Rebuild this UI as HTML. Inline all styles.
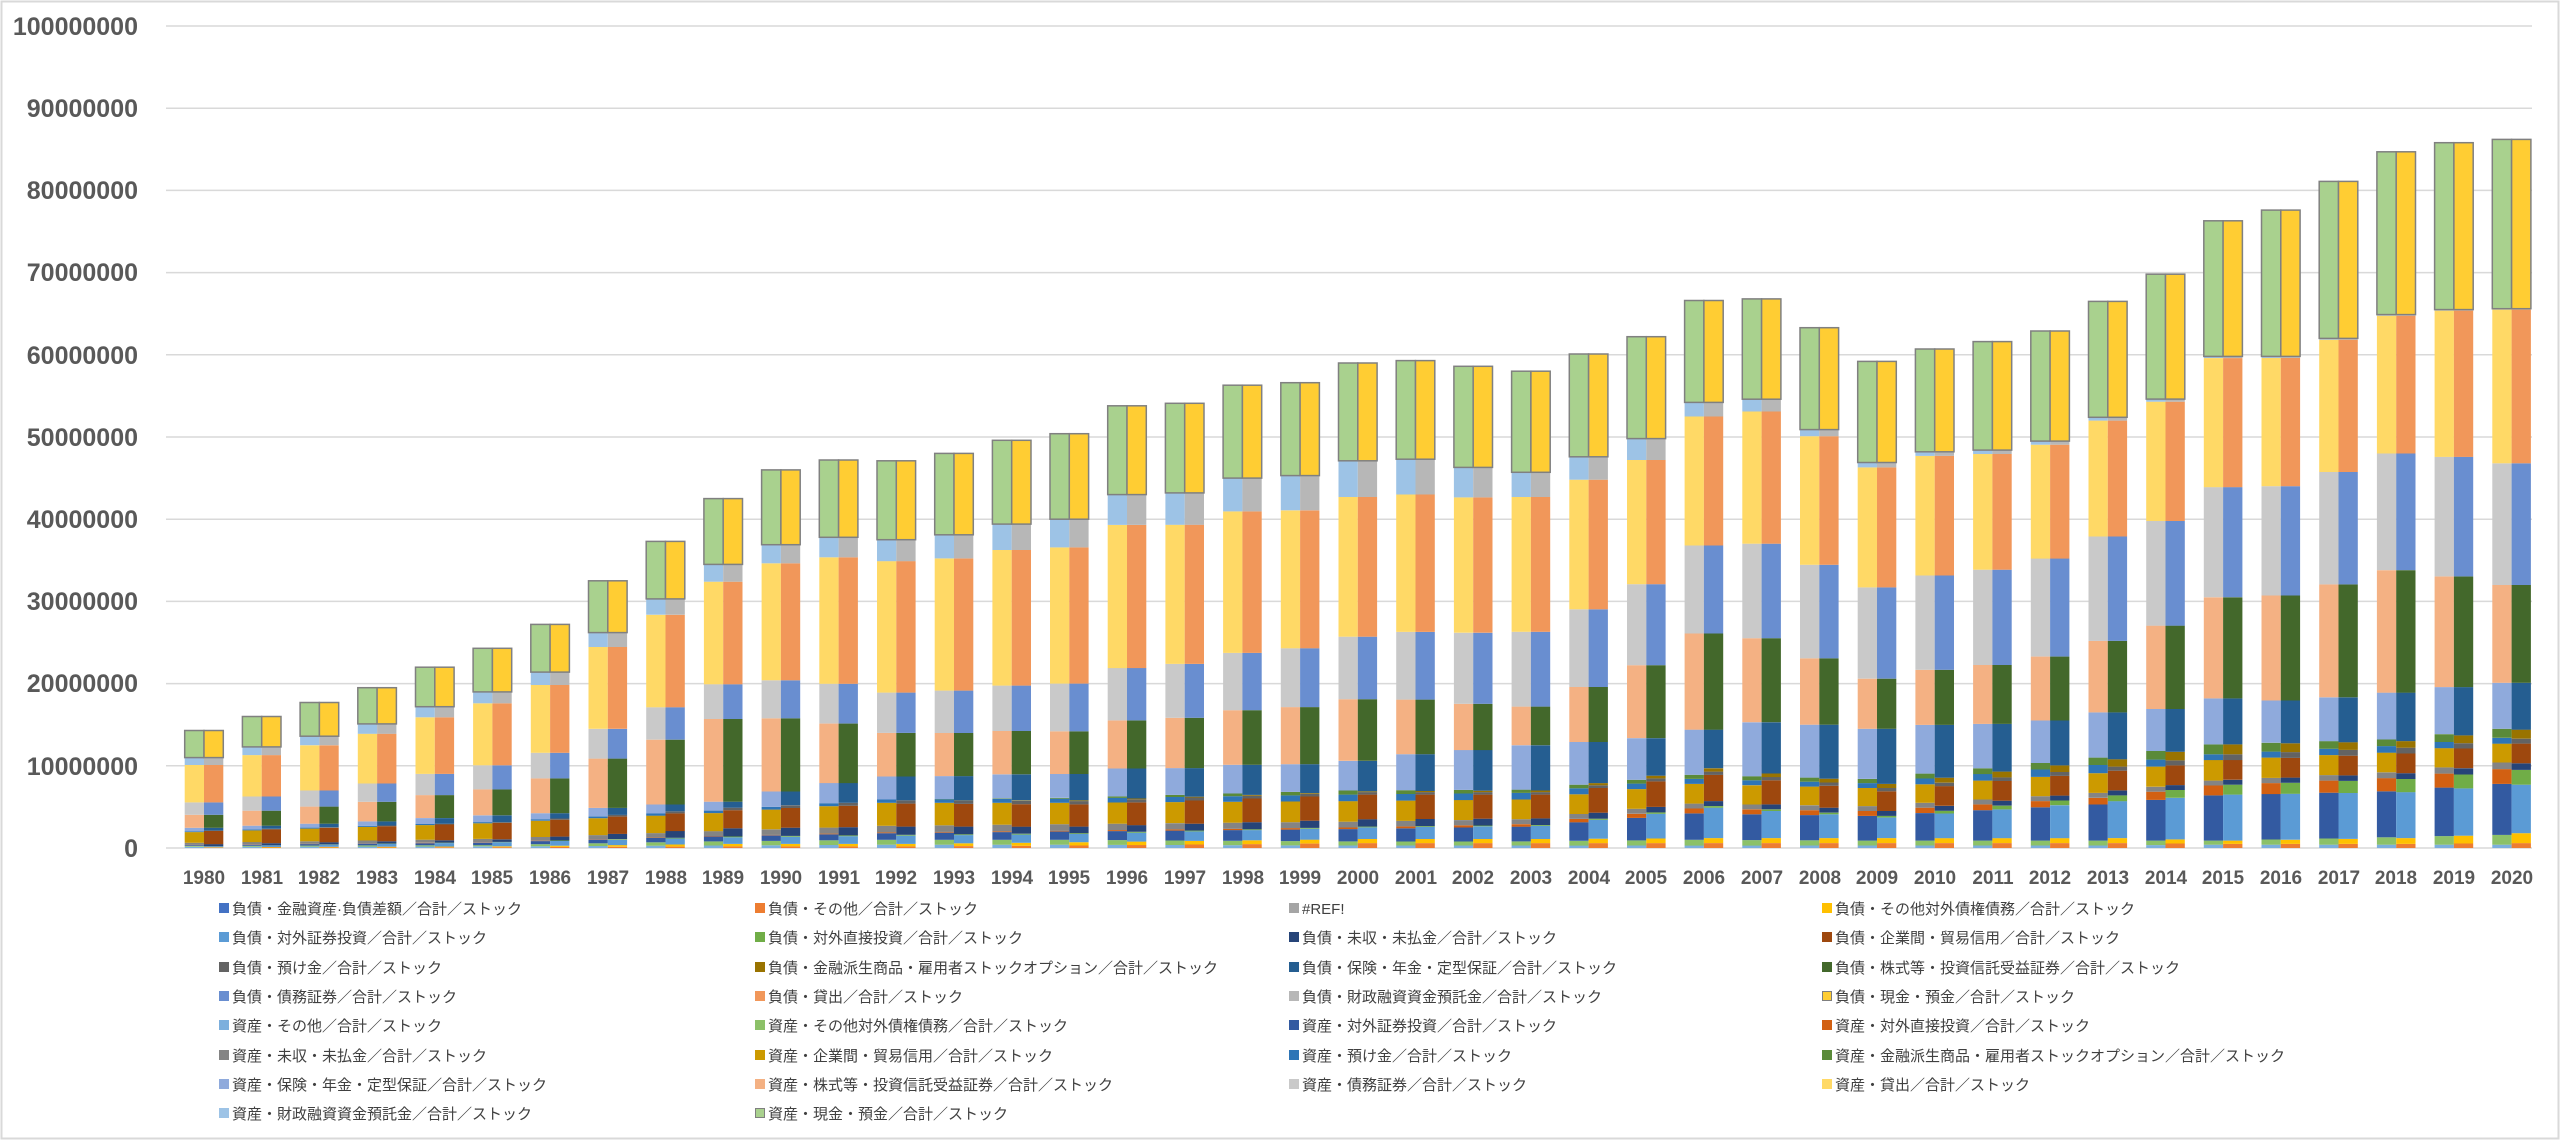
<!DOCTYPE html>
<html><head><meta charset="utf-8"><style>
html,body{margin:0;padding:0;background:#fff;}
#c{position:relative;width:2560px;height:1140px;overflow:hidden;background:#fff;}
svg text{font-family:"Liberation Sans","Noto Sans CJK JP",sans-serif;}
.yl{font-size:25px;font-weight:bold;fill:#595959;text-anchor:end;}
.xl{font-size:19px;font-weight:bold;fill:#595959;text-anchor:middle;}
.lg{font-size:15px;fill:#404040;}
</style></head><body><div id="c">
<svg id="s" width="2560" height="1140" xmlns="http://www.w3.org/2000/svg">
<rect x="1.5" y="1.5" width="2557" height="1137" fill="#fff" stroke="#d9d9d9" stroke-width="2"/>
<g id="grid" stroke="#d9d9d9" stroke-width="1.5">
<line x1="166" x2="2532" y1="26" y2="26"/><line x1="166" x2="2532" y1="108.2" y2="108.2"/>
<line x1="166" x2="2532" y1="190.4" y2="190.4"/><line x1="166" x2="2532" y1="272.6" y2="272.6"/>
<line x1="166" x2="2532" y1="354.8" y2="354.8"/><line x1="166" x2="2532" y1="437" y2="437"/>
<line x1="166" x2="2532" y1="519.2" y2="519.2"/><line x1="166" x2="2532" y1="601.4" y2="601.4"/>
<line x1="166" x2="2532" y1="683.6" y2="683.6"/><line x1="166" x2="2532" y1="765.8" y2="765.8"/>
<line x1="166" x2="2532" y1="848" y2="848"/>
</g>
<g id="bars"></g>
<g>
<text class="yl" x="138" y="35">100000000</text>
<text class="yl" x="138" y="117">90000000</text>
<text class="yl" x="138" y="199">80000000</text>
<text class="yl" x="138" y="281">70000000</text>
<text class="yl" x="138" y="364">60000000</text>
<text class="yl" x="138" y="446">50000000</text>
<text class="yl" x="138" y="528">40000000</text>
<text class="yl" x="138" y="610">30000000</text>
<text class="yl" x="138" y="692">20000000</text>
<text class="yl" x="138" y="775">10000000</text>
<text class="yl" x="138" y="857">0</text>
</g>
<g>
<text class="xl" x="204" y="884">1980</text><text class="xl" x="262" y="884">1981</text><text class="xl" x="319" y="884">1982</text><text class="xl" x="377" y="884">1983</text><text class="xl" x="435" y="884">1984</text><text class="xl" x="492" y="884">1985</text><text class="xl" x="550" y="884">1986</text><text class="xl" x="608" y="884">1987</text><text class="xl" x="666" y="884">1988</text><text class="xl" x="723" y="884">1989</text>
<text class="xl" x="781" y="884">1990</text><text class="xl" x="839" y="884">1991</text><text class="xl" x="896" y="884">1992</text><text class="xl" x="954" y="884">1993</text><text class="xl" x="1012" y="884">1994</text><text class="xl" x="1069" y="884">1995</text><text class="xl" x="1127" y="884">1996</text><text class="xl" x="1185" y="884">1997</text><text class="xl" x="1243" y="884">1998</text><text class="xl" x="1300" y="884">1999</text>
<text class="xl" x="1358" y="884">2000</text><text class="xl" x="1416" y="884">2001</text><text class="xl" x="1473" y="884">2002</text><text class="xl" x="1531" y="884">2003</text><text class="xl" x="1589" y="884">2004</text><text class="xl" x="1646" y="884">2005</text><text class="xl" x="1704" y="884">2006</text><text class="xl" x="1762" y="884">2007</text><text class="xl" x="1820" y="884">2008</text><text class="xl" x="1877" y="884">2009</text>
<text class="xl" x="1935" y="884">2010</text><text class="xl" x="1993" y="884">2011</text><text class="xl" x="2050" y="884">2012</text><text class="xl" x="2108" y="884">2013</text><text class="xl" x="2166" y="884">2014</text><text class="xl" x="2223" y="884">2015</text><text class="xl" x="2281" y="884">2016</text><text class="xl" x="2339" y="884">2017</text><text class="xl" x="2396" y="884">2018</text><text class="xl" x="2454" y="884">2019</text><text class="xl" x="2512" y="884">2020</text>
</g>
<g>
<rect x="219" y="903" width="10" height="10" fill="#4472C4"/><text class="lg" x="232" y="914">負債・金融資産·負債差額／合計／ストック</text>
<rect x="755" y="903" width="10" height="10" fill="#ED7D31"/><text class="lg" x="768" y="914">負債・その他／合計／ストック</text>
<rect x="1289" y="903" width="10" height="10" fill="#A5A5A5"/><text class="lg" x="1302" y="914">#REF!</text>
<rect x="1822" y="903" width="10" height="10" fill="#FFC000"/><text class="lg" x="1835" y="914">負債・その他対外債権債務／合計／ストック</text>

<rect x="219" y="932" width="10" height="10" fill="#5B9BD5"/><text class="lg" x="232" y="943">負債・対外証券投資／合計／ストック</text>
<rect x="755" y="932" width="10" height="10" fill="#70AD47"/><text class="lg" x="768" y="943">負債・対外直接投資／合計／ストック</text>
<rect x="1289" y="932" width="10" height="10" fill="#264478"/><text class="lg" x="1302" y="943">負債・未収・未払金／合計／ストック</text>
<rect x="1822" y="932" width="10" height="10" fill="#9E480E"/><text class="lg" x="1835" y="943">負債・企業間・貿易信用／合計／ストック</text>

<rect x="219" y="962" width="10" height="10" fill="#636363"/><text class="lg" x="232" y="973">負債・預け金／合計／ストック</text>
<rect x="755" y="962" width="10" height="10" fill="#997300"/><text class="lg" x="768" y="973">負債・金融派生商品・雇用者ストックオプション／合計／ストック</text>
<rect x="1289" y="962" width="10" height="10" fill="#255E91"/><text class="lg" x="1302" y="973">負債・保険・年金・定型保証／合計／ストック</text>
<rect x="1822" y="962" width="10" height="10" fill="#43682B"/><text class="lg" x="1835" y="973">負債・株式等・投資信託受益証券／合計／ストック</text>

<rect x="219" y="991" width="10" height="10" fill="#698ED0"/><text class="lg" x="232" y="1002">負債・債務証券／合計／ストック</text>
<rect x="755" y="991" width="10" height="10" fill="#F1975A"/><text class="lg" x="768" y="1002">負債・貸出／合計／ストック</text>
<rect x="1289" y="991" width="10" height="10" fill="#B7B7B7"/><text class="lg" x="1302" y="1002">負債・財政融資資金預託金／合計／ストック</text>
<rect x="1822.5" y="991.5" width="9" height="9" fill="#FFCD33" stroke="#7f7f7f"/><text class="lg" x="1835" y="1002">負債・現金・預金／合計／ストック</text>

<rect x="219" y="1020" width="10" height="10" fill="#7CAFDD"/><text class="lg" x="232" y="1031">資産・その他／合計／ストック</text>
<rect x="755" y="1020" width="10" height="10" fill="#8CC168"/><text class="lg" x="768" y="1031">資産・その他対外債権債務／合計／ストック</text>
<rect x="1289" y="1020" width="10" height="10" fill="#335AA1"/><text class="lg" x="1302" y="1031">資産・対外証券投資／合計／ストック</text>
<rect x="1822" y="1020" width="10" height="10" fill="#D26012"/><text class="lg" x="1835" y="1031">資産・対外直接投資／合計／ストック</text>

<rect x="219" y="1050" width="10" height="10" fill="#848484"/><text class="lg" x="232" y="1061">資産・未収・未払金／合計／ストック</text>
<rect x="755" y="1050" width="10" height="10" fill="#CC9A00"/><text class="lg" x="768" y="1061">資産・企業間・貿易信用／合計／ストック</text>
<rect x="1289" y="1050" width="10" height="10" fill="#2E75B6"/><text class="lg" x="1302" y="1061">資産・預け金／合計／ストック</text>
<rect x="1822" y="1050" width="10" height="10" fill="#5A8A39"/><text class="lg" x="1835" y="1061">資産・金融派生商品・雇用者ストックオプション／合計／ストック</text>

<rect x="219" y="1079" width="10" height="10" fill="#8FAADC"/><text class="lg" x="232" y="1090">資産・保険・年金・定型保証／合計／ストック</text>
<rect x="755" y="1079" width="10" height="10" fill="#F4B183"/><text class="lg" x="768" y="1090">資産・株式等・投資信託受益証券／合計／ストック</text>
<rect x="1289" y="1079" width="10" height="10" fill="#C9C9C9"/><text class="lg" x="1302" y="1090">資産・債務証券／合計／ストック</text>
<rect x="1822" y="1079" width="10" height="10" fill="#FFD966"/><text class="lg" x="1835" y="1090">資産・貸出／合計／ストック</text>

<rect x="219" y="1108" width="10" height="10" fill="#9DC3E6"/><text class="lg" x="232" y="1119">資産・財政融資資金預託金／合計／ストック</text>
<rect x="755.5" y="1108.5" width="9" height="9" fill="#A9D18E" stroke="#7f7f7f"/><text class="lg" x="768" y="1119">資産・現金・預金／合計／ストック</text>
</g>
</svg>
</div>
<script>
(function(){
var T=[14.3,16,17.7,19.5,22,24.3,27.2,32.5,37.3,42.5,46,47.2,47.1,48,49.6,50.4,53.8,54.1,56.3,56.6,59,59.3,58.6,58,60.1,62.2,66.6,66.8,63.3,59.2,60.7,61.6,62.9,66.5,69.8,76.3,77.6,81.1,84.7,85.8,86.2];
var S=[11,12.3,13.6,15.1,17.2,19,21.4,26.2,30.3,34.5,36.9,37.8,37.5,38.1,39.4,40,43,43.2,45,45.3,47.1,47.3,46.3,45.7,47.6,49.8,54.2,54.6,50.9,46.9,48.2,48.4,49.5,52.4,54.6,59.8,59.8,62,64.9,65.5,65.6];
function itp(k,y){for(var i=0;i<k.length-1;i++){if(y<=k[i+1][0]){var a=k[i],b=k[i+1];return a[1]+(b[1]-a[1])*(y-a[0])/(b[0]-a[0]);}}return k[k.length-1][1];}
var Z=[[1980,.9],[1985,1.4],[1989,2.1],[1992,2.6],[1996,3.7],[2000,4.4],[2001,4.3],[2003,3.0],[2005,2.6],[2006,1.7],[2007,1.5],[2008,.8],[2009,.6],[2010,.5],[2013,.4],[2015,.2],[2020,.1]];
var KY=[1980,1985,1989,1992,1995,2000,2003,2006,2009,2013,2015,2018,2020];
var KS=[10.9,18.9,34.3,37.5,40,47.1,45.7,54.2,46.9,52.4,59.8,64.9,65.6];
var INS=[2.43,3.95,5.6,8.7,9.0,10.6,12.5,14.4,14.5,16.5,18.2,18.9,20.1];
var EQ=[4.0,7.1,15.6,14.0,14.2,18.1,17.2,26.1,20.6,25.2,30.5,33.8,32];
var DB=[5.5,10.0,19.8,18.9,20.0,25.7,26.3,36.8,31.7,37.9,43.9,48,46.8];
var AS=[[.15,.1,.1,.03,.25,1.3,.1,0],[.2,.15,.3,.05,.4,1.9,.15,0],[.3,.5,.6,.05,.6,2.2,.3,0],[.4,.6,.8,.1,.8,2.8,.4,0],[.4,.6,1.0,.1,.8,2.6,.5,.1],[.3,.5,1.5,.2,.7,2.5,.8,.5],[.3,.5,1.8,.3,.6,2.4,.8,.4],[.3,.7,3.2,.6,.6,2.4,.6,.5],[.3,.6,3.0,.6,.6,2.2,.6,.5],[.3,.6,4.4,.8,.6,2.4,1.0,.9],[.4,.5,5.5,1.2,.6,2.5,.7,1.2],[.4,.9,5.6,1.6,.7,2.4,.8,.8],[.4,1.2,6.2,1.8,.8,2.3,.7,1.1]];
var LS=[[.05,.05,.1,.02,.25,1.6,.05,0],[.1,.1,.5,.05,.3,2.0,.1,0],[.2,.3,.8,.1,1.0,2.2,.3,0],[.2,.3,1.0,.1,1.0,2.8,.4,0],[.3,.4,1.0,.1,.8,2.7,.4,.1],[.6,.5,1.4,.1,.9,3.0,.3,.1],[.6,.5,1.6,.1,.8,2.9,.3,.2],[.6,.6,3.7,.2,.6,3.2,.4,.4],[.6,.6,2.5,.2,.6,2.4,.4,.5],[.6,.6,4.5,.7,.6,2.4,.5,.9],[.5,.4,5.6,1.2,.6,2.4,.7,1.2],[.5,.7,5.6,1.6,.7,2.4,.7,.8],[.6,1.2,5.9,1.8,.8,2.4,.6,1.1]];
function kf(arr,frac){return KY.map(function(y,i){return [y,frac?arr[i]/KS[i]:arr[i]];});}
var kIns=kf(INS,1),kEq=kf(EQ,1),kDb=kf(DB,1);
function col(M,j){return KY.map(function(y,i){return [y,M[i][j]];});}
var AC=['#7CAFDD','#8CC168','#335AA1','#D26012','#848484','#CC9A00','#2E75B6','#5A8A39','#8FAADC','#F4B183','#C9C9C9','#FFD966','#9DC3E6','#A9D18E'];
var LC=['#ED7D31','#FFC000','#5B9BD5','#70AD47','#264478','#9E480E','#636363','#997300','#255E91','#43682B','#698ED0','#F1975A','#B7B7B7','#FFCD33'];
var g=document.getElementById('bars'),NS='http://www.w3.org/2000/svg',h='';
function Y(v){return 848-v*8.22;}
for(var i=0;i<41;i++){
 var yr=1980+i,s=S[i],tot=T[i],z=itp(Z,yr);
 var insT=itp(kIns,yr)*s,eqT=itp(kEq,yr)*s,dbT=itp(kDb,yr)*s;
 [0,1].forEach(function(side){
  var M=side?LS:AS,C=side?LC:AC,vals=[],sum=0;
  for(var j=0;j<8;j++){var v=itp(col(M,j),yr);vals.push(v);sum+=v;}
  vals.push(Math.max(0,insT-sum));vals.push(eqT-insT);vals.push(dbT-eqT);vals.push(s-z-dbT);vals.push(z);vals.push(tot-s);
  var cx=204+57.69*i,x=side?cx:cx-19.3,cum=0;
  for(var j=0;j<vals.length;j++){
   var y0=Y(cum),y1=Y(cum+vals[j]);cum+=vals[j];
   var st=(j==13)?' stroke="#808080" stroke-width="1.5"':'';
   h+='<rect x="'+x.toFixed(1)+'" y="'+y1.toFixed(1)+'" width="19.3" height="'+Math.max(0,y0-y1).toFixed(1)+'" fill="'+C[j]+'"'+st+'/>';
  }
 });
}
g.innerHTML=h;
})();
</script>
</body></html>
